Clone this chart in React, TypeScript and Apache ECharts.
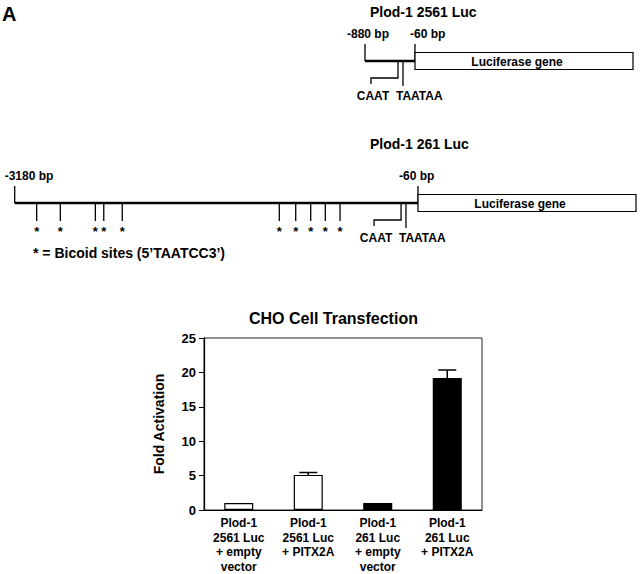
import React, { useEffect, useRef } from 'react';
import * as echarts from 'echarts';

const FONT = '"Liberation Sans", Arial, Helvetica, sans-serif';

// ---- Bar chart data ----
const barCategories = [
  'Plod-1\n2561 Luc\n+ empty\nvector',
  'Plod-1\n2561 Luc\n+ PITX2A',
  'Plod-1\n261 Luc\n+ empty\nvector',
  'Plod-1\n261 Luc\n+ PITX2A',
];
const foldActivation = [1.0, 5.1, 1.0, 19.2];
const foldErrorUp = [0, 0.35, 0, 1.15];
const barColors = ['#ffffff', '#ffffff', '#000000', '#000000'];
const yMin = 0;
const yMax = 25;
const yStep = 5;

// ---- Promoter maps (bp coordinates) ----
const map2561Range = [-880, -60];
const map2561Elements = [-339, -257]; // CAAT, TAATAA
const map261Range = [-3180, -60];
const map261Elements = [-191, -153]; // CAAT, TAATAA
const bicoidSites = [-3010, -2827, -2556, -2491, -2348, -1133, -1006, -890, -777, -663];

function txt(x: number, y: number, text: string, size: number, align: string = 'left', vAlign: string = 'middle') {
  return {
    type: 'text',
    x,
    y,
    style: {
      text,
      fill: '#000',
      fontFamily: FONT,
      fontWeight: 'bold',
      fontSize: size,
      align,
      verticalAlign: vAlign,
    },
  };
}

function line(x1: number, y1: number, x2: number, y2: number, w: number = 1.3) {
  return {
    type: 'line',
    shape: { x1, y1, x2, y2 },
    style: { stroke: '#000', lineWidth: w },
  };
}

function makeMapRender(elements: number[], startLabel: string, endLabel: string, startOff: number, endOff: number) {
  return (params: any, api: any) => {
    const p0 = api.coord([api.value(0), 0]);
    const p1 = api.coord([api.value(2), 0]);
    const caat = api.coord([elements[0], 0])[0];
    const tata = api.coord([elements[1], 0])[0];
    const y0 = p0[1];
    const xs = p0[0];
    const xe = p1[0];
    const boxW = 218;
    return {
      type: 'group',
      children: [
        line(xs, y0 - 17, xs, y0, 1.3),
        line(xs, y0, xe, y0, 2.4),
        line(xe, y0 - 17, xe, y0, 1.3),
        {
          type: 'rect',
          shape: { x: xe, y: y0 - 8.5, width: boxW, height: 17 },
          style: { fill: '#ffffff', stroke: '#000', lineWidth: 1.2 },
        },
        txt(xe + 102, y0 + 0.5, 'Luciferase gene', 12, 'center'),
        {
          type: 'polyline',
          shape: { points: [[caat, y0], [caat, y0 + 17], [caat - 27, y0 + 17], [caat - 27, y0 + 23]] },
          style: { stroke: '#000', lineWidth: 1.3, fill: 'none' },
        },
        line(tata, y0, tata, y0 + 25, 1.3),
        txt(caat - 25, y0 + 35, 'CAAT', 12, 'center'),
        txt(tata - 7, y0 + 35, 'TAATAA', 12, 'left'),
        txt(xs + startOff, y0 - 27, startLabel, 12, 'left'),
        txt(xe + endOff, y0 - 27, endLabel, 12, 'left'),
      ],
    };
  };
}

function bicoidRender(params: any, api: any) {
  const p = api.coord([api.value(0), 0]);
  return {
    type: 'group',
    children: [
      line(p[0], p[1], p[0], p[1] + 18, 1.3),
      txt(p[0], p[1] + 28, '*', 13, 'center'),
    ],
  };
}

function errorRender(params: any, api: any) {
  const idx = params.dataIndex;
  const top = api.coord([api.value(0), api.value(1) + api.value(2)]);
  const base = api.coord([api.value(0), api.value(1)]);
  if (api.value(2) <= 0) return { type: 'group', children: [] };
  const cap = 18;
  return {
    type: 'group',
    children: [
      line(base[0], base[1], top[0], top[1], 1.5),
      line(top[0] - cap / 2, top[1], top[0] + cap / 2, top[1], 1.5),
    ],
  };
}

export default function App() {
  const ref = useRef<HTMLDivElement>(null);
  useEffect(() => {
    if (!ref.current) return;
    const chart = echarts.init(ref.current, null, { renderer: 'svg' });
    const hiddenX = (gi: number, range: number[]) => ({
      type: 'value', gridIndex: gi, min: range[0], max: range[1], show: false,
    });
    const hiddenY = (gi: number) => ({ type: 'value', gridIndex: gi, min: -1, max: 1, show: false });
    chart.setOption({
      animation: false,
      backgroundColor: '#ffffff',
      textStyle: { fontFamily: FONT },
      graphic: [
        txt(2, 14, 'A', 20, 'left'),
        txt(370, 12, 'Plod-1 2561 Luc', 14, 'left'),
        txt(370, 144, 'Plod-1 261 Luc', 14, 'left'),
        txt(33, 253, '* = Bicoid sites (5\u2019TAATCC3\u2019)', 14, 'left'),
        txt(249, 318, 'CHO Cell Transfection', 16, 'left'),
      ],
      grid: [
        { left: 204, right: 158, top: 338, bottom: 62, show: true, borderColor: '#222', borderWidth: 1, backgroundColor: 'transparent' },
        { left: 365, width: 50, top: 41, height: 40 },
        { left: 14.7, width: 403.3, top: 183, height: 40 },
      ],
      xAxis: [
        {
          type: 'category',
          gridIndex: 0,
          data: barCategories,
          axisLine: { lineStyle: { color: '#000', width: 1 } },
          axisTick: { show: false },
          axisLabel: {
            color: '#000', fontWeight: 'bold', fontSize: 12, fontFamily: FONT,
            lineHeight: 14.5, margin: 6, interval: 0,
          },
        },
        hiddenX(1, map2561Range),
        hiddenX(2, map261Range),
      ],
      yAxis: [
        {
          type: 'value',
          gridIndex: 0,
          min: yMin,
          max: yMax,
          interval: yStep,
          splitLine: { show: false },
          axisLine: { show: true, lineStyle: { color: '#000', width: 1.3 } },
          axisTick: { show: true, inside: false, length: 5, lineStyle: { color: '#000' } },
          axisLabel: { color: '#000', fontWeight: 'bold', fontSize: 13, fontFamily: FONT, margin: 8 },
          name: 'Fold Activation',
          nameLocation: 'middle',
          nameRotate: 90,
          nameGap: 38,
          nameTextStyle: { color: '#000', fontWeight: 'bold', fontSize: 14, fontFamily: FONT },
        },
        hiddenY(1),
        hiddenY(2),
      ],
      series: [
        {
          type: 'bar',
          xAxisIndex: 0,
          yAxisIndex: 0,
          barWidth: 29,
          data: foldActivation.map((v, i) => ({
            value: v,
            itemStyle: { color: barColors[i], borderColor: '#000', borderWidth: 1.2 },
          })),
        },
        {
          type: 'custom',
          xAxisIndex: 0,
          yAxisIndex: 0,
          renderItem: errorRender,
          data: foldActivation.map((v, i) => [i, v, foldErrorUp[i]]),
          z: 3,
        },
        {
          type: 'custom',
          xAxisIndex: 1,
          yAxisIndex: 1,
          clip: false,
          renderItem: makeMapRender(map2561Elements, '-880 bp', '-60 bp', -18, -5),
          data: [[map2561Range[0], 0, map2561Range[1]]],
        },
        {
          type: 'custom',
          xAxisIndex: 2,
          yAxisIndex: 2,
          clip: false,
          renderItem: makeMapRender(map261Elements, '-3180 bp', '-60 bp', -10, -19),
          data: [[map261Range[0], 0, map261Range[1]]],
        },
        {
          type: 'custom',
          xAxisIndex: 2,
          yAxisIndex: 2,
          clip: false,
          renderItem: bicoidRender,
          data: bicoidSites.map((b) => [b, 0]),
        },
      ],
    });
    return () => chart.dispose();
  }, []);
  return (
    <div
      ref={ref}
      style={{ position: 'fixed', left: 0, top: 0, width: 640, height: 574, background: '#fff' }}
    />
  );
}
